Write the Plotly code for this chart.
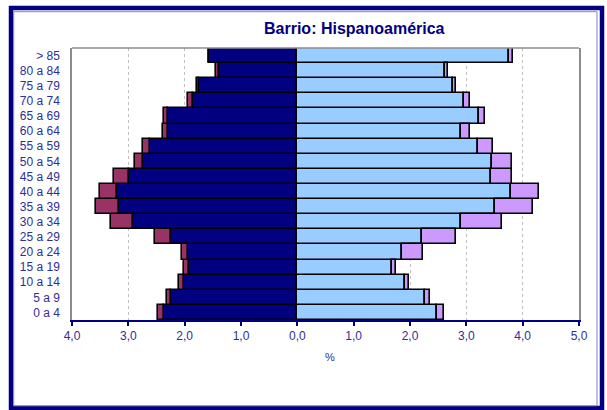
import plotly.graph_objects as go

groups = ["0 a 4", "5 a 9", "10 a 14", "15 a 19", "20 a 24", "25 a 29", "30 a 34",
          "35 a 39", "40 a 44", "45 a 49", "50 a 54", "55 a 59", "60 a 64", "65 a 69",
          "70 a 74", "75 a 79", "80 a 84", "> 85"]

# Left side (men): base and extra segment, in %
men_base = [2.37, 2.24, 2.01, 1.92, 1.94, 2.24, 2.91, 3.17, 3.20, 2.98, 2.74, 2.62,
            2.30, 2.30, 1.85, 1.74, 1.39, 1.56]
men_extra = [0.11, 0.07, 0.09, 0.10, 0.10, 0.28, 0.39, 0.40, 0.31, 0.28, 0.15, 0.12,
             0.09, 0.07, 0.09, 0.04, 0.05, 0.01]
# Right side (women): base and extra segment, in %
women_base = [2.48, 2.27, 1.92, 1.68, 1.85, 2.21, 2.90, 3.51, 3.80, 3.43, 3.45, 3.20,
              2.91, 3.23, 2.95, 2.77, 2.62, 3.75]
women_extra = [0.12, 0.09, 0.06, 0.08, 0.38, 0.60, 0.74, 0.68, 0.49, 0.38, 0.36, 0.28,
               0.15, 0.11, 0.11, 0.04, 0.06, 0.07]

tick_vals = [-4, -3, -2, -1, 0, 1, 2, 3, 4, 5]
tick_text = ["4,0", "3,0", "2,0", "1,0", "0,0", "1,0", "2,0", "3,0", "4,0", "5,0"]

navy = "#000080"
txt = "#2e2e99"
outline = dict(color="#000000", width=1.6)

fig = go.Figure()
fig.add_trace(go.Bar(y=groups, x=[-v for v in men_base], orientation="h",
                     marker=dict(color=navy, line=outline), showlegend=False))
fig.add_trace(go.Bar(y=groups, x=[-v for v in men_extra], orientation="h",
                     marker=dict(color="#993366", line=outline), showlegend=False))
fig.add_trace(go.Bar(y=groups, x=women_base, orientation="h",
                     marker=dict(color="#99CCFF", line=outline), showlegend=False))
fig.add_trace(go.Bar(y=groups, x=women_extra, orientation="h",
                     marker=dict(color="#CC99FF", line=outline), showlegend=False))

fig.update_layout(
    width=607, height=410,
    margin=dict(l=72, r=28, t=48, b=90),
    paper_bgcolor="white", plot_bgcolor="white",
    barmode="relative", bargap=0.0,
    font=dict(family="Liberation Sans, Arial, sans-serif", size=12, color=txt),
    xaxis=dict(range=[-4, 5], tickvals=tick_vals, ticktext=tick_text,
               showgrid=True, gridcolor="#c0c0c0", griddash="dot", gridwidth=1,
               zeroline=False, showline=True, linecolor=navy, linewidth=1.5,
               ticks="outside", ticklen=4, tickcolor=navy, tickwidth=1.5,
               tickfont=dict(size=12, color=txt)),
    yaxis=dict(categoryorder="array", categoryarray=groups,
               showgrid=False, zeroline=False, showline=True, linecolor="#8c8c8c",
               linewidth=1.5, mirror=True, ticks="", ticklabelstandoff=8,
               tickfont=dict(size=12, color=txt)),
    shapes=[
        dict(type="line", xref="paper", yref="paper", x0=0, x1=1, y0=1, y1=1,
             line=dict(color="#8c8c8c", width=1.5)),
        dict(type="rect", xref="paper", yref="paper", x0=-0.1203, x1=1.0454,
             y0=-0.3235, y1=1.147, line=dict(color=navy, width=4.5)),
        dict(type="rect", xref="paper", yref="paper", x0=-0.1150, x1=1.0355,
             y0=-0.3155, y1=1.1335, line=dict(color="#8080c8", width=1)),
    ],
    annotations=[
        dict(text="<b>Barrio: Hispanoamérica</b>", xref="paper", yref="paper",
             x=0.558, y=1.07, showarrow=False, xanchor="center", yanchor="middle",
             font=dict(size=16, color=navy)),
        dict(text="%", xref="paper", yref="paper", x=0.509, y=-0.136,
             showarrow=False, xanchor="center", yanchor="middle",
             font=dict(size=11, color=txt)),
    ],
)

fig.write_html("out.html", config={"displayModeBar": False},
               post_script="document.body.style.margin='0';")
